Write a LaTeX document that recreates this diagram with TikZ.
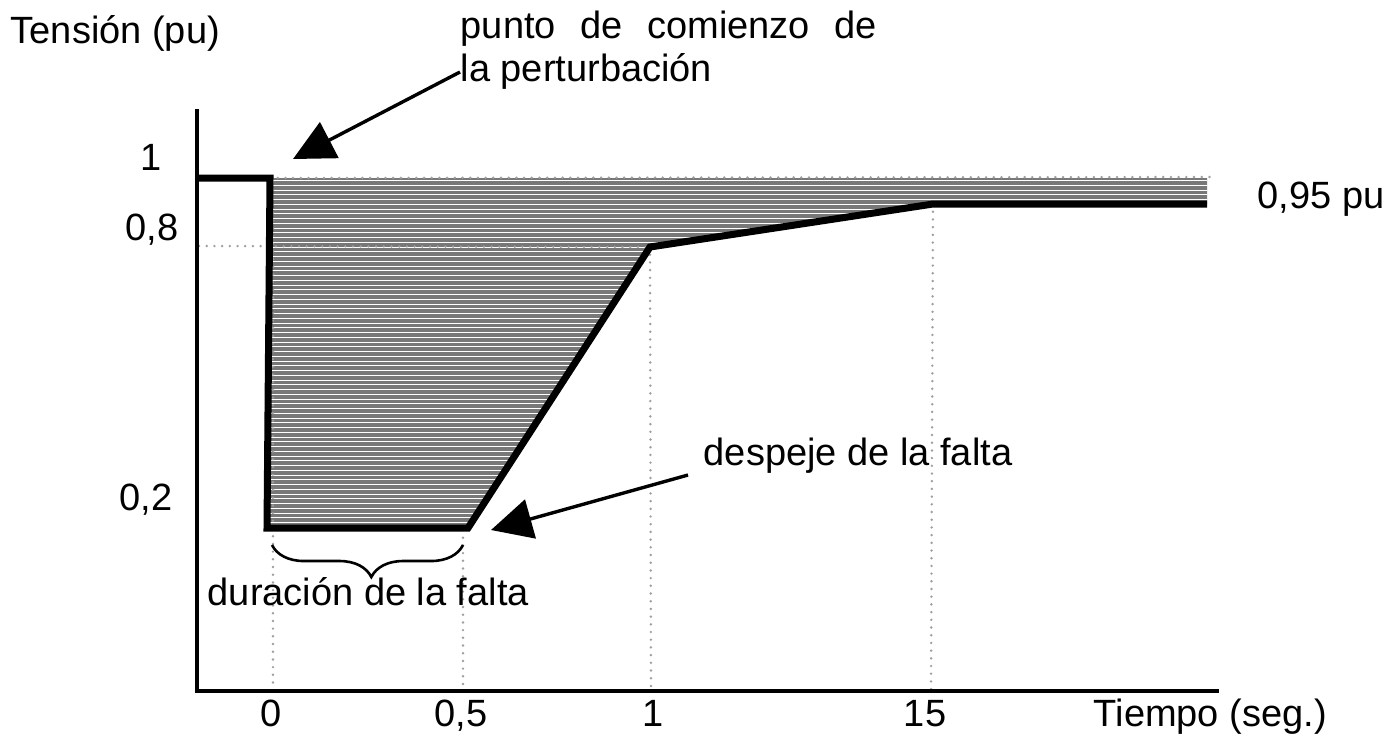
\documentclass[tikz,border=0pt]{standalone}
\usepackage{fontspec}
\setmainfont{Liberation Sans}
\usetikzlibrary{arrows.meta,decorations.pathreplacing}

\tikzset{every picture/.style={line width=0.75pt}}
\tikzset{
  profile/.style={line width=3.5pt,line join=miter},
  guide/.style={color=black!38,line width=1.35pt,line cap=round,dash pattern=on 0pt off 3.85pt},
  pointer/.style={line width=1.7pt,-{Triangle[length=20.5pt,width=20pt]}},
  lbl/.style={inner sep=0pt,font=\fontsize{19}{21.5}\selectfont},
}

\begin{document}
\begin{tikzpicture}[x=0.5pt,y=0.5pt,yscale=-1,xscale=1]
\useasboundingbox (0,0) rectangle (1395,736);

%Points of the voltage profile
\coordinate (pre) at (197,178);
\coordinate (onset) at (270,178);
\coordinate (dip) at (267,528);
\coordinate (clear) at (468,528);
\coordinate (knee) at (650,247);
\coordinate (slow) at (933,204);
\coordinate (tail) at (1207,204);
\coordinate (top) at (1207,178);

%Shape: Hatched area
\begin{scope}
\clip (onset) -- (top) -- (tail) -- (slow) -- (knee) -- (clear) -- (dip) -- cycle;
\fill [black!53] (260,170) rectangle (1215,535);
\foreach \k in {0,...,74}
  \draw [white,line width=0.5pt] (260,{180.5+4.75*\k}) -- (1215,{180.5+4.75*\k});
\end{scope}

%Dotted Lines
\draw [guide] (onset) -- (1213,177);
\draw [guide] (199,246) -- (knee);
\draw [guide] (273,182) -- (273,691);
\draw [guide] (463,530) -- (463,691);
\draw [guide] (knee) -- (651,691);
\draw [guide] (slow) -- (931,691);

%Straight Lines: axes
\draw [line width=1.8pt] (197,109) -- (197,691) -- (1219,691);

%Straight Lines: voltage profile
\draw [profile] (pre) -- (onset) -- (dip) -- (clear) -- (knee) -- (slow) -- (tail);

%Brace
\coordinate (bl) at (272,545);
\coordinate (br) at (463,545);
\draw [line width=1.3pt,decorate,decoration={brace,mirror,amplitude=16pt,aspect=0.52}] (bl) -- (br);

%Arrows
\coordinate (p1) at (460,72);
\coordinate (h1) at (293,159);
\draw [pointer] (p1) -- (h1);
\coordinate (p2) at (688,475);
\coordinate (h2) at (491,530);
\draw [pointer] (p2) -- (h2);

% Text Node
\node [lbl,anchor=base west] (ylab) at (10,43) {Tensión (pu)};
% Text Node
\node [lbl,anchor=base] (v1) at (151,170) {1};
% Text Node
\node [lbl,anchor=base] (v08) at (152,240) {0,8};
% Text Node
\node [lbl,anchor=base] (v02) at (146,510) {0,2};
% Text Node
\node [lbl,anchor=base] (t0) at (271,726) {0};
% Text Node
\node [lbl,anchor=base] (t05) at (461,726) {0,5};
% Text Node
\node [lbl,anchor=base] (t1) at (653,726) {1};
% Text Node
\node [lbl,anchor=base] (t15) at (925,726) {15};
% Text Node
\node [lbl,anchor=base west] (xlab) at (1093,726) {Tiempo (seg.)};
% Text Node
\node [lbl,anchor=base west] (v095) at (1257,208) {0,95 pu};
% Text Node
\node [lbl,anchor=north west,align=left] (start) at (460,10) {\makebox[208pt][s]{punto de comienzo de}\\la perturbación};
% Text Node
\node [lbl,anchor=base west] (clr) at (703,465) {despeje de la falta};
% Text Node
\node [lbl,anchor=base west] (dur) at (207,605) {duración de la falta};

\end{tikzpicture}
\end{document}
